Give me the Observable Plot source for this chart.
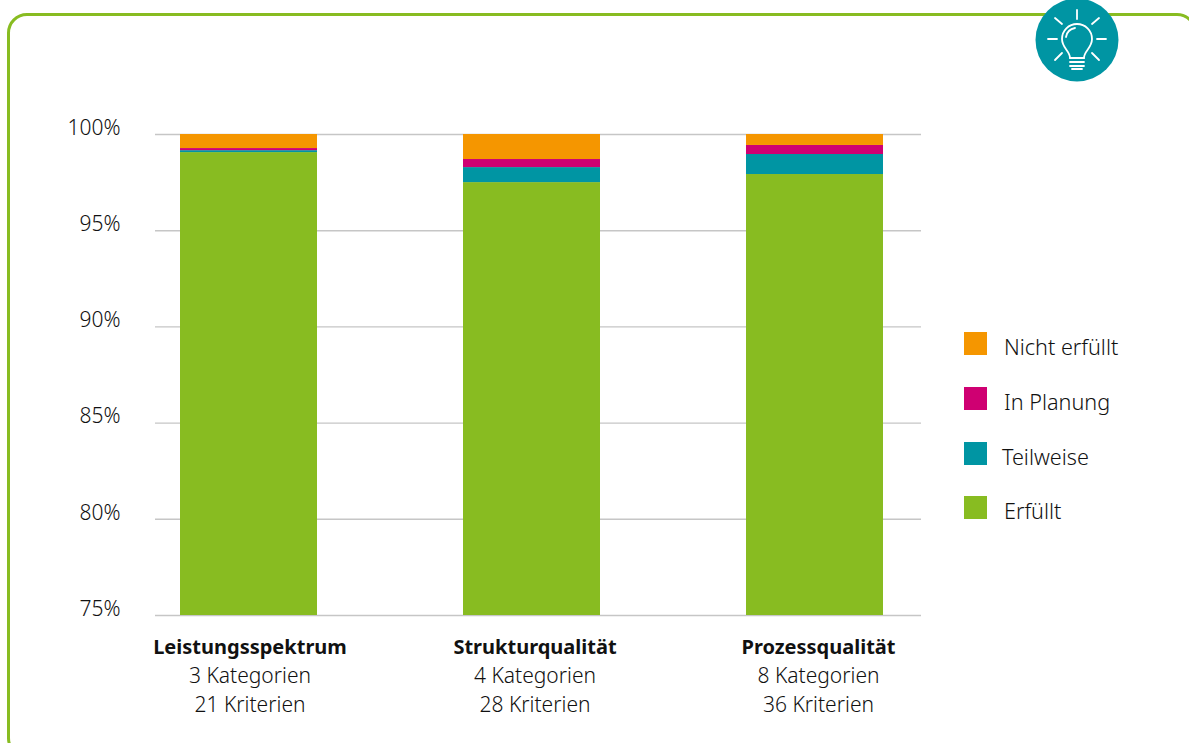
<!DOCTYPE html>
<html><head><meta charset="utf-8">
<script src="https://cdn.jsdelivr.net/npm/d3@7"></script>
<script src="https://cdn.jsdelivr.net/npm/@observablehq/plot@0.6"></script>
<style>
html,body{margin:0;padding:0;background:#fff;overflow:hidden}
#stage{position:relative;width:1189px;height:743px;overflow:hidden;font-family:"Noto Sans",sans-serif;color:#111}
#card{position:absolute;left:7px;top:13px;width:1190px;height:745px;box-sizing:border-box;border:3px solid #88bc21;border-radius:20px}
#chart{position:absolute;left:0;top:0}
#icon{position:absolute;left:1035px;top:-2px}
.sw{position:absolute;left:964px;width:23px;height:23px}
.lt{position:absolute;font-size:21.6px;font-weight:300;line-height:24px;white-space:nowrap}
</style></head><body>
<div id="stage"><div id="card"></div><div id="chart"></div>
<svg id="icon" width="84" height="84" viewBox="0 0 84 84">
<circle cx="42" cy="42" r="41.5" fill="#0095a3"/>
<g fill="none" stroke="#fff" stroke-width="1.8" stroke-linecap="round">
<path d="M42 12v9M20 20l7 6M64 20l-7 6M13 41h9M62 41h9M20 62l7-7M64 62l-7-7"/>
<path d="M35 60c0-7-8-10-8-19a15 15 0 0 1 30 0c0 9-8 12-8 19z"/>
<path d="M31 39a11 11 0 0 1 9-9"/>
<path d="M35 64h14M35 68h14M37 71h10"/>
</g></svg>
</div>
<script>
const categories = ["Leistungsspektrum", "Strukturqualität", "Prozessqualität"];
const kategorien = ["3 Kategorien", "4 Kategorien", "8 Kategorien"];
const kriterien = ["21 Kriterien", "28 Kriterien", "36 Kriterien"];
const series = ["Erfüllt", "Teilweise", "In Planung", "Nicht erfüllt"];
const colors = ["#88bc21", "#0095a3", "#cf0072", "#f59600"];
const erfuellt = [99.06, 97.5, 97.92];
const teilweise = [0.1, 0.78, 1.04];
const inPlanung = [0.11, 0.42, 0.47];
const nichtErfuellt = [0.73, 1.3, 0.57];
const yTicks = [75, 80, 85, 90, 95, 100];
const values = [erfuellt, teilweise, inPlanung, nichtErfuellt];
const rows = series.flatMap((s, i) => categories.map((c, j) => ({category: c, status: s, value: values[i][j]})));
const cats = categories.map((c, j) => ({category: c, a: kategorien[j], b: kriterien[j]}));
const font = '"Noto Sans", sans-serif', ink = "#111";
const nudges = [1, 3, 3.5];
const labelMarks = cats.flatMap((c, j) => [
  Plot.text([c], {x: "category", frameAnchor: "bottom", dx: nudges[j], dy: 38.5, text: "category", fontWeight: 700, fontSize: 20, fill: ink}),
  Plot.text([c], {x: "category", frameAnchor: "bottom", dx: nudges[j], dy: 67.5, text: "a", fontWeight: 300, fontSize: 21, fill: ink}),
  Plot.text([c], {x: "category", frameAnchor: "bottom", dx: nudges[j], dy: 96, text: "b", fontWeight: 300, fontSize: 21, fill: ink})
]);
const plot = Plot.plot({
  width: 1189, height: 743,
  marginLeft: 155, marginRight: 268, marginTop: 134, marginBottom: 128,
  style: {fontFamily: font, background: "transparent", overflow: "visible"},
  x: {domain: categories, paddingInner: 0.516, paddingOuter: 0.1095, align: 0.403, axis: null},
  y: {domain: [75, 100], clamp: true, axis: null},
  color: {domain: series, range: colors},
  marks: [
    Plot.ruleY(yTicks, {stroke: "#c6c6c6", strokeWidth: 1.4}),
    Plot.barY(rows, {x: "category", y: "value", fill: "status", order: null}),
    Plot.text(yTicks, {y: d => d, text: d => d + "%", frameAnchor: "left", dx: -35, dy: -6.5, textAnchor: "end", fontSize: 21, fontWeight: 300, fill: ink}),
    ...labelMarks
  ]
});
document.getElementById("chart").append(plot);
const legendItems = ["Nicht erfüllt", "In Planung", "Teilweise", "Erfüllt"];
const swatchTop = [332, 387, 442, 496];
const labelLeft = [1004, 1004, 1002, 1004];
const stage = document.getElementById("stage");
legendItems.forEach((s, i) => {
  const sw = document.createElement("div"); sw.className = "sw";
  sw.style.top = swatchTop[i] + "px"; sw.style.background = colors[series.indexOf(s)];
  const t = document.createElement("div"); t.className = "lt"; t.textContent = s;
  t.style.left = labelLeft[i] + "px"; t.style.top = (swatchTop[i] + 3) + "px";
  stage.append(sw, t);
});
</script></body></html>
